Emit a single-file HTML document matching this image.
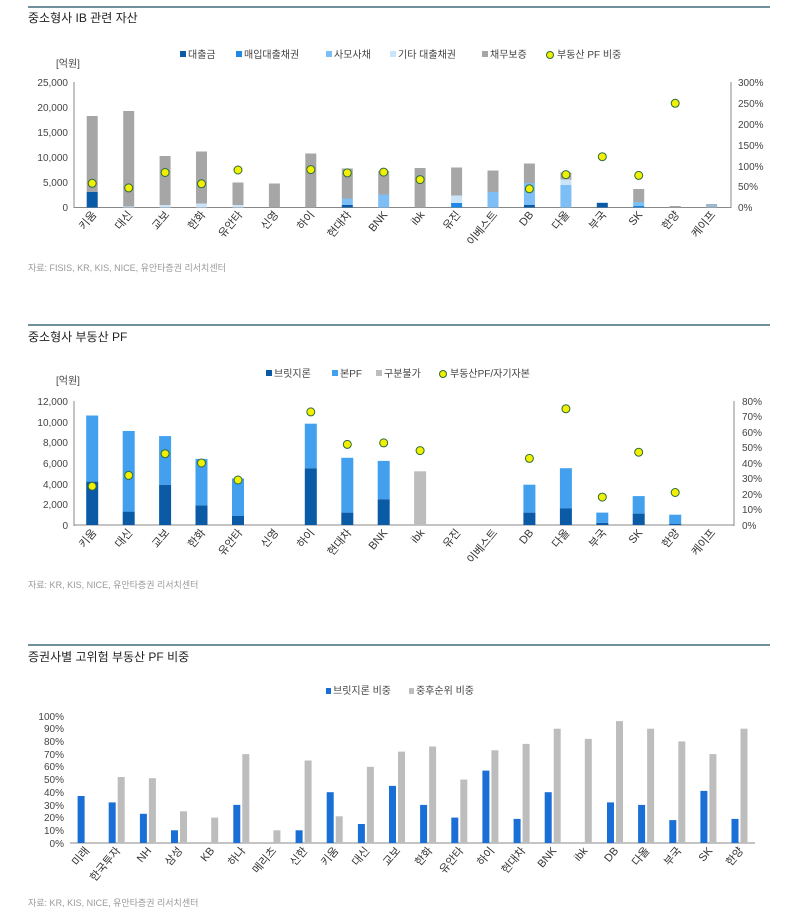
<!DOCTYPE html>
<html><head><meta charset="utf-8"><style>
html,body{margin:0;padding:0;background:#fff;}
svg{display:block;font-family:"Liberation Sans","Noto Sans CJK KR",sans-serif;}
.t{font-size:11px;fill:#333}
.s{font-size:9px;fill:#999}
.k{font-size:10px;fill:#444}
.h{font-size:12px;fill:#222}
</style></head><body>
<svg width="788" height="912" viewBox="0 0 788 912">
<!-- Chart 1 -->
<line x1="28" y1="7" x2="770" y2="7" stroke="#1f4e5f" stroke-width="1.2"/>
<text x="28" y="22" class="h">중소형사 IB 관련 자산</text>
<g class="k">
<rect x="180" y="51" width="6" height="6" fill="#0b5aa6"/><text x="188" y="58">대출금</text>
<rect x="236" y="51" width="6" height="6" fill="#1e88e5"/><text x="244" y="58">매입대출채권</text>
<rect x="326" y="51" width="6" height="6" fill="#7dbef5"/><text x="334" y="58">사모사채</text>
<rect x="390" y="51" width="6" height="6" fill="#cce4f7"/><text x="398" y="58">기타 대출채권</text>
<rect x="482" y="51" width="6" height="6" fill="#a6a6a6"/><text x="490" y="58">채무보증</text>
<circle cx="550" cy="55" r="3.5" fill="#f0f000" stroke="#2e6b3a"/><text x="557" y="58">부동산 PF 비중</text>
</g>
<text x="56" y="67" class="k" fill="#777">[억원]</text>
<g class="k" text-anchor="end">
<text x="68" y="211">0</text><text x="68" y="186">5,000</text><text x="68" y="161">10,000</text><text x="68" y="136">15,000</text><text x="68" y="111">20,000</text><text x="68" y="86">25,000</text>
</g>
<g class="k">
<text x="738" y="211">0%</text><text x="738" y="190">50%</text><text x="738" y="170">100%</text><text x="738" y="149">150%</text><text x="738" y="128">200%</text><text x="738" y="107">250%</text><text x="738" y="86">300%</text>
</g>
<line x1="74" y1="82" x2="74" y2="208" stroke="#888"/>
<line x1="731" y1="82" x2="731" y2="208" stroke="#888"/>
<line x1="74" y1="207.5" x2="731" y2="207.5" stroke="#888"/>
<g>
<rect x="86.7" y="192" width="11" height="15.5" fill="#0b5aa6"/><rect x="86.7" y="116" width="11" height="76" fill="#a6a6a6"/>
<rect x="123.2" y="206.5" width="11" height="1" fill="#cce4f7"/><rect x="123.2" y="111" width="11" height="95.5" fill="#a6a6a6"/>
<rect x="159.6" y="205" width="11" height="2.5" fill="#cce4f7"/><rect x="159.6" y="156" width="11" height="49" fill="#a6a6a6"/>
<rect x="196" y="203.5" width="11" height="4" fill="#cce4f7"/><rect x="196" y="151.5" width="11" height="52" fill="#a6a6a6"/>
<rect x="232.5" y="205" width="11" height="2.5" fill="#cce4f7"/><rect x="232.5" y="182.5" width="11" height="22.5" fill="#a6a6a6"/>
<rect x="268.9" y="183.5" width="11" height="24" fill="#a6a6a6"/>
<rect x="305.3" y="153.5" width="11" height="54" fill="#a6a6a6"/>
<rect x="341.8" y="205" width="11" height="2.5" fill="#0b5aa6"/><rect x="341.8" y="198.5" width="11" height="6.5" fill="#7dbef5"/><rect x="341.8" y="168.5" width="11" height="30" fill="#a6a6a6"/>
<rect x="378.2" y="194.5" width="11" height="13" fill="#7dbef5"/><rect x="378.2" y="171" width="11" height="23.5" fill="#a6a6a6"/>
<rect x="414.6" y="168" width="11" height="39.5" fill="#a6a6a6"/>
<rect x="451.1" y="203" width="11" height="4.5" fill="#1e88e5"/><rect x="451.1" y="195.5" width="11" height="7.5" fill="#cce4f7"/><rect x="451.1" y="167.5" width="11" height="28" fill="#a6a6a6"/>
<rect x="487.5" y="192" width="11" height="15.5" fill="#7dbef5"/><rect x="487.5" y="170.5" width="11" height="21.5" fill="#a6a6a6"/>
<rect x="523.9" y="205" width="11" height="2.5" fill="#0b5aa6"/><rect x="523.9" y="183" width="11" height="22" fill="#7dbef5"/><rect x="523.9" y="163.5" width="11" height="19.5" fill="#a6a6a6"/>
<rect x="560.4" y="185" width="11" height="22.5" fill="#7dbef5"/><rect x="560.4" y="179.5" width="11" height="5.5" fill="#cce4f7"/><rect x="560.4" y="172.5" width="11" height="7" fill="#a6a6a6"/>
<rect x="596.8" y="203" width="11" height="4.5" fill="#0b5aa6"/><rect x="596.8" y="202" width="11" height="1" fill="#cce4f7"/>
<rect x="633.2" y="206" width="11" height="1.5" fill="#1e88e5"/><rect x="633.2" y="202" width="11" height="4" fill="#7dbef5"/><rect x="633.2" y="189" width="11" height="13" fill="#a6a6a6"/>
<rect x="669.7" y="206" width="11" height="1.5" fill="#a6a6a6"/>
<rect x="706.1" y="204" width="11" height="3.5" fill="#9fb8cc"/>
</g>
<g fill="#f0f000" stroke="#2e6b3a" stroke-width="1">
<circle cx="92.2" cy="183.3" r="4"/><circle cx="128.7" cy="187.9" r="4"/><circle cx="165.1" cy="172.5" r="4"/><circle cx="201.5" cy="183.8" r="4"/><circle cx="238" cy="170" r="4"/><circle cx="310.8" cy="169.6" r="4"/><circle cx="347.3" cy="172.9" r="4"/><circle cx="383.7" cy="172.1" r="4"/><circle cx="420.1" cy="179.6" r="4"/><circle cx="529.4" cy="188.8" r="4"/><circle cx="565.9" cy="174.6" r="4"/><circle cx="602.3" cy="156.7" r="4"/><circle cx="638.7" cy="175.4" r="4"/><circle cx="675.2" cy="103.3" r="4"/>
</g>
<g class="t" text-anchor="end">
<text transform="translate(97,215) rotate(-50)">키움</text>
<text transform="translate(133,215) rotate(-50)">대신</text>
<text transform="translate(170,215) rotate(-50)">교보</text>
<text transform="translate(206,215) rotate(-50)">한화</text>
<text transform="translate(243,215) rotate(-50)">유안타</text>
<text transform="translate(279,215) rotate(-50)">신영</text>
<text transform="translate(315,215) rotate(-50)">하이</text>
<text transform="translate(352,215) rotate(-50)">현대차</text>
<text transform="translate(388,215) rotate(-50)">BNK</text>
<text transform="translate(425,215) rotate(-50)">ibk</text>
<text transform="translate(461,215) rotate(-50)">유진</text>
<text transform="translate(498,215) rotate(-50)">이베스트</text>
<text transform="translate(534,215) rotate(-50)">DB</text>
<text transform="translate(570,215) rotate(-50)">다올</text>
<text transform="translate(607,215) rotate(-50)">부국</text>
<text transform="translate(643,215) rotate(-50)">SK</text>
<text transform="translate(680,215) rotate(-50)">한양</text>
<text transform="translate(716,215) rotate(-50)">케이프</text>
</g>
<text x="28" y="271" class="s">자료: FISIS, KR, KIS, NICE, 유안타증권 리서치센터</text>

<!-- Chart 2 -->
<line x1="28" y1="325" x2="770" y2="325" stroke="#1f4e5f" stroke-width="1.2"/>
<text x="28" y="341" class="h">중소형사 부동산 PF</text>
<g class="k">
<rect x="266" y="370" width="6" height="6" fill="#0b5aa6"/><text x="274" y="377">브릿지론</text>
<rect x="332" y="370" width="6" height="6" fill="#42a0ee"/><text x="340" y="377">본PF</text>
<rect x="376" y="370" width="6" height="6" fill="#bdbdbd"/><text x="384" y="377">구분불가</text>
<circle cx="443" cy="374" r="3.5" fill="#f0f000" stroke="#2e6b3a"/><text x="450" y="377">부동산PF/자기자본</text>
</g>
<text x="56" y="384" class="k" fill="#777">[억원]</text>
<g class="k" text-anchor="end">
<text x="68" y="529">0</text><text x="68" y="508">2,000</text><text x="68" y="488">4,000</text><text x="68" y="467">6,000</text><text x="68" y="446">8,000</text><text x="68" y="426">10,000</text><text x="68" y="405">12,000</text>
</g>
<g class="k">
<text x="742" y="529">0%</text><text x="742" y="513">10%</text><text x="742" y="498">20%</text><text x="742" y="482">30%</text><text x="742" y="467">40%</text><text x="742" y="451">50%</text><text x="742" y="436">60%</text><text x="742" y="420">70%</text><text x="742" y="405">80%</text>
</g>
<line x1="74" y1="401" x2="74" y2="526" stroke="#888"/>
<line x1="734" y1="401" x2="734" y2="526" stroke="#888"/>
<line x1="74" y1="525" x2="734" y2="525" stroke="#888"/>
<g>
<rect x="86.2" y="481.6" width="12" height="43.4" fill="#0b5aa6"/><rect x="86.2" y="415.5" width="12" height="66.1" fill="#42a0ee"/>
<rect x="122.7" y="511.6" width="12" height="13.4" fill="#0b5aa6"/><rect x="122.7" y="431" width="12" height="80.6" fill="#42a0ee"/>
<rect x="159.1" y="484.7" width="12" height="40.3" fill="#0b5aa6"/><rect x="159.1" y="436.1" width="12" height="48.6" fill="#42a0ee"/>
<rect x="195.5" y="505.4" width="12" height="19.6" fill="#0b5aa6"/><rect x="195.5" y="458.9" width="12" height="46.5" fill="#42a0ee"/>
<rect x="232" y="515.7" width="12" height="9.3" fill="#0b5aa6"/><rect x="232" y="478.5" width="12" height="37.2" fill="#42a0ee"/>
<rect x="304.8" y="468.2" width="12" height="56.8" fill="#0b5aa6"/><rect x="304.8" y="423.7" width="12" height="44.5" fill="#42a0ee"/>
<rect x="341.3" y="512.6" width="12" height="12.4" fill="#0b5aa6"/><rect x="341.3" y="457.8" width="12" height="54.8" fill="#42a0ee"/>
<rect x="377.7" y="499.2" width="12" height="25.8" fill="#0b5aa6"/><rect x="377.7" y="460.9" width="12" height="38.3" fill="#42a0ee"/>
<rect x="414.1" y="471.3" width="12" height="53.7" fill="#bdbdbd"/>
<rect x="523.4" y="512.6" width="12" height="12.4" fill="#0b5aa6"/><rect x="523.4" y="484.7" width="12" height="27.9" fill="#42a0ee"/>
<rect x="559.9" y="508.5" width="12" height="16.5" fill="#0b5aa6"/><rect x="559.9" y="468.2" width="12" height="40.3" fill="#42a0ee"/>
<rect x="596.3" y="522.9" width="12" height="2.1" fill="#0b5aa6"/><rect x="596.3" y="512.6" width="12" height="10.3" fill="#42a0ee"/>
<rect x="632.7" y="513.6" width="12" height="11.4" fill="#0b5aa6"/><rect x="632.7" y="496.1" width="12" height="17.5" fill="#42a0ee"/>
<rect x="669.2" y="524" width="12" height="1" fill="#0b5aa6"/><rect x="669.2" y="514.7" width="12" height="9.3" fill="#42a0ee"/>
</g>
<g fill="#f0f000" stroke="#2e6b3a" stroke-width="1">
<circle cx="92.2" cy="486.3" r="4"/><circle cx="128.7" cy="475.4" r="4"/><circle cx="165.1" cy="453.7" r="4"/><circle cx="201.5" cy="463" r="4"/><circle cx="238" cy="480" r="4"/><circle cx="310.8" cy="411.9" r="4"/><circle cx="347.3" cy="444.4" r="4"/><circle cx="383.7" cy="442.9" r="4"/><circle cx="420.1" cy="450.6" r="4"/><circle cx="529.4" cy="458.4" r="4"/><circle cx="565.9" cy="408.8" r="4"/><circle cx="602.3" cy="497.1" r="4"/><circle cx="638.7" cy="452.2" r="4"/><circle cx="675.2" cy="492.5" r="4"/>
</g>
<g class="t" text-anchor="end">
<text transform="translate(97,533) rotate(-50)">키움</text>
<text transform="translate(133,533) rotate(-50)">대신</text>
<text transform="translate(170,533) rotate(-50)">교보</text>
<text transform="translate(206,533) rotate(-50)">한화</text>
<text transform="translate(243,533) rotate(-50)">유안타</text>
<text transform="translate(279,533) rotate(-50)">신영</text>
<text transform="translate(315,533) rotate(-50)">하이</text>
<text transform="translate(352,533) rotate(-50)">현대차</text>
<text transform="translate(388,533) rotate(-50)">BNK</text>
<text transform="translate(425,533) rotate(-50)">ibk</text>
<text transform="translate(461,533) rotate(-50)">유진</text>
<text transform="translate(498,533) rotate(-50)">이베스트</text>
<text transform="translate(534,533) rotate(-50)">DB</text>
<text transform="translate(570,533) rotate(-50)">다올</text>
<text transform="translate(607,533) rotate(-50)">부국</text>
<text transform="translate(643,533) rotate(-50)">SK</text>
<text transform="translate(680,533) rotate(-50)">한양</text>
<text transform="translate(716,533) rotate(-50)">케이프</text>
</g>
<text x="28" y="588" class="s">자료: KR, KIS, NICE, 유안타증권 리서치센터</text>

<!-- Chart 3 -->
<line x1="28" y1="645" x2="770" y2="645" stroke="#1f4e5f" stroke-width="1.2"/>
<text x="28" y="661" class="h">증권사별 고위험 부동산 PF 비중</text>
<g class="k">
<rect x="326" y="688" width="5" height="6" fill="#1a6fd6"/><text x="333" y="694">브릿지론 비중</text>
<rect x="409" y="688" width="5" height="6" fill="#bdbdbd"/><text x="416" y="694">중후순위 비중</text>
</g>
<g class="k" text-anchor="end">
<text x="64" y="847">0%</text><text x="64" y="834">10%</text><text x="64" y="821">20%</text><text x="64" y="809">30%</text><text x="64" y="796">40%</text><text x="64" y="783">50%</text><text x="64" y="770">60%</text><text x="64" y="758">70%</text><text x="64" y="745">80%</text><text x="64" y="732">90%</text><text x="64" y="720">100%</text>
</g>
<line x1="70" y1="843" x2="755" y2="843" stroke="#888"/>
<g fill="#1a6fd6">
<rect x="77.6" y="796" width="7" height="47"/>
<rect x="108.7" y="802.4" width="7" height="40.6"/>
<rect x="139.9" y="813.8" width="7" height="29.2"/>
<rect x="171" y="830.3" width="7" height="12.7"/>
<rect x="233.3" y="804.9" width="7" height="38.1"/>
<rect x="295.6" y="830.3" width="7" height="12.7"/>
<rect x="326.7" y="792.2" width="7" height="50.8"/>
<rect x="357.9" y="824" width="7" height="19"/>
<rect x="389" y="785.9" width="7" height="57.1"/>
<rect x="420.1" y="804.9" width="7" height="38.1"/>
<rect x="451.3" y="817.6" width="7" height="25.4"/>
<rect x="482.4" y="770.6" width="7" height="72.4"/>
<rect x="513.6" y="818.9" width="7" height="24.1"/>
<rect x="544.7" y="792.2" width="7" height="50.8"/>
<rect x="607" y="802.4" width="7" height="40.6"/>
<rect x="638.1" y="804.9" width="7" height="38.1"/>
<rect x="669.3" y="820.1" width="7" height="22.9"/>
<rect x="700.4" y="790.9" width="7" height="52.1"/>
<rect x="731.5" y="818.9" width="7" height="24.1"/>
</g>
<g fill="#bdbdbd">
<rect x="117.7" y="777" width="7" height="66"/>
<rect x="148.9" y="778.2" width="7" height="64.8"/>
<rect x="180" y="811.3" width="7" height="31.7"/>
<rect x="211.2" y="817.6" width="7" height="25.4"/>
<rect x="242.3" y="754.1" width="7" height="88.9"/>
<rect x="273.4" y="830.3" width="7" height="12.7"/>
<rect x="304.6" y="760.5" width="7" height="82.5"/>
<rect x="335.7" y="816.3" width="7" height="26.7"/>
<rect x="366.9" y="766.8" width="7" height="76.2"/>
<rect x="398" y="751.6" width="7" height="91.4"/>
<rect x="429.1" y="746.5" width="7" height="96.5"/>
<rect x="460.3" y="779.5" width="7" height="63.5"/>
<rect x="491.4" y="750.3" width="7" height="92.7"/>
<rect x="522.6" y="743.9" width="7" height="99.1"/>
<rect x="553.7" y="728.7" width="7" height="114.3"/>
<rect x="584.8" y="738.9" width="7" height="104.1"/>
<rect x="616" y="721.1" width="7" height="121.9"/>
<rect x="647.1" y="728.7" width="7" height="114.3"/>
<rect x="678.3" y="741.4" width="7" height="101.6"/>
<rect x="709.4" y="754.1" width="7" height="88.9"/>
<rect x="740.5" y="728.7" width="7" height="114.3"/>
</g>
<g class="t" text-anchor="end">
<text transform="translate(90,851) rotate(-50)">미래</text>
<text transform="translate(121,851) rotate(-50)">한국투자</text>
<text transform="translate(152,851) rotate(-50)">NH</text>
<text transform="translate(183,851) rotate(-50)">삼성</text>
<text transform="translate(215,851) rotate(-50)">KB</text>
<text transform="translate(246,851) rotate(-50)">하나</text>
<text transform="translate(277,851) rotate(-50)">메리츠</text>
<text transform="translate(308,851) rotate(-50)">신한</text>
<text transform="translate(339,851) rotate(-50)">키움</text>
<text transform="translate(370,851) rotate(-50)">대신</text>
<text transform="translate(401,851) rotate(-50)">교보</text>
<text transform="translate(433,851) rotate(-50)">한화</text>
<text transform="translate(464,851) rotate(-50)">유안타</text>
<text transform="translate(495,851) rotate(-50)">하이</text>
<text transform="translate(526,851) rotate(-50)">현대차</text>
<text transform="translate(557,851) rotate(-50)">BNK</text>
<text transform="translate(588,851) rotate(-50)">ibk</text>
<text transform="translate(619,851) rotate(-50)">DB</text>
<text transform="translate(650,851) rotate(-50)">다올</text>
<text transform="translate(682,851) rotate(-50)">부국</text>
<text transform="translate(713,851) rotate(-50)">SK</text>
<text transform="translate(744,851) rotate(-50)">한양</text>
</g>
<text x="28" y="906" class="s">자료: KR, KIS, NICE, 유안타증권 리서치센터</text>
</svg>
</body></html>
